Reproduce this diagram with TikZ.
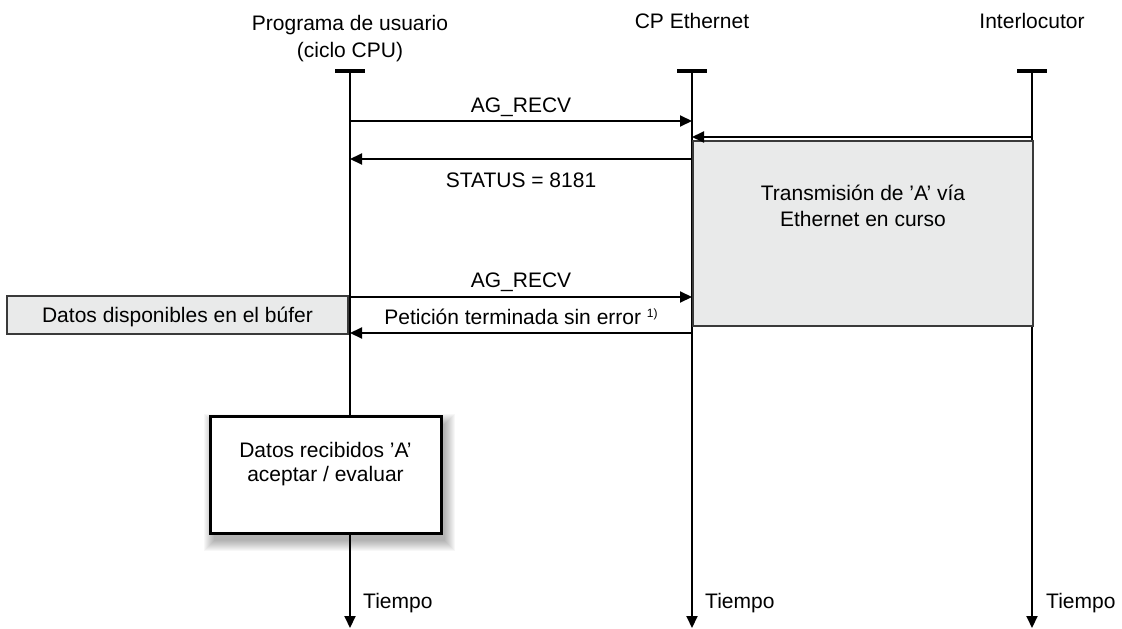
\documentclass[tikz,border=0pt]{standalone}
\usepackage{fontspec}
\setmainfont{Liberation Sans}
\usetikzlibrary{arrows.meta,calc}
\definecolor{boxgray}{HTML}{E9EAEA}
\definecolor{edgegray}{HTML}{3A3A3A}
\begin{document}
\begin{tikzpicture}[x=1pt,y=-1pt,
  txt/.style={font=\fontsize{21}{25}\selectfont, inner sep=0pt, anchor=base},
  life/.style={line width=2pt,-{Triangle[length=12pt,width=11pt]}},
  topbar/.style={line width=4.5pt},
  msg/.style={line width=2pt,-{Triangle[length=12pt,width=11pt]}},
  graybox/.style={draw=edgegray, fill=boxgray, line width=2pt, inner sep=0pt},
  whitebox/.style={draw=black, fill=white, line width=3pt, inner sep=0pt},
]
\useasboundingbox (0,0) rectangle (1122,629);

% headers
\node[txt, align=center] (hL) at (350,57) {Programa de usuario\\[2pt](ciclo CPU)};
\node[txt] (hM) at (692,28) {CP Ethernet};
\node[txt] (hR) at (1032,28) {Interlocutor};

% lifeline ends
\coordinate (Ltop) at (350,71);
\coordinate (Mtop) at (692,71);
\coordinate (Rtop) at (1032,71);
\coordinate (Lbot) at (350,628);
\coordinate (Mbot) at (692,628);
\coordinate (Rbot) at (1032,628);

\draw[topbar] ($(Ltop)+(-15,0)$) -- ($(Ltop)+(15,0)$);
\draw[topbar] ($(Mtop)+(-15,0)$) -- ($(Mtop)+(15,0)$);
\draw[topbar] ($(Rtop)+(-15,0)$) -- ($(Rtop)+(15,0)$);

\draw[life] (Ltop) -- (Lbot);
\draw[life] (Mtop) -- (Mbot);
\draw[life] (Rtop) -- (Rbot);

% gray transmission box
\node[graybox, minimum width=340pt, minimum height=185pt] (trans) at (863,233.5) {};
\node[txt, align=center] (transtxt) at (863,226.3) {Transmisión de ’A’ vía\\[0.6pt]Ethernet en curso};

% messages
\coordinate (m1L) at (350,121);
\coordinate (m1M) at (692,121);
\coordinate (m2R) at (1032,137);
\coordinate (m2M) at (692,137);
\coordinate (m3M) at (692,159);
\coordinate (m3L) at (350,159);
\coordinate (m4L) at (350,297);
\coordinate (m4M) at (692,297);
\coordinate (m5M) at (692,333);
\coordinate (m5L) at (350,333);

\draw[msg] (m1L) -- (m1M);
\draw[msg] (m2R) -- (m2M);
\draw[msg] (m3M) -- (m3L);
\draw[msg] (m4L) -- (m4M);
\draw[msg] (m5M) -- (m5L);

\node[txt] (l1) at (521,112.5) {AG\_RECV};
\node[txt] (l3) at (521,187) {STATUS = 8181};
\node[txt] (l4) at (521,287.5) {AG\_RECV};
\node[txt] (l5) at (521,324.5) {Petición terminada sin error \raisebox{7pt}{\fontsize{12}{12}\selectfont 1)}};

% buffer box
\node[graybox, minimum width=341pt, minimum height=38pt, text height=15pt, text depth=0pt,
      font=\fontsize{21}{25}\selectfont] (buf) at (177.5,315) {Datos disponibles en el búfer};

% received data box with soft shadow
\foreach \d in {0,1,...,10}{
  \fill[black, opacity=0.03] (214-\d,424-\d) rectangle (445+\d,541+\d);
}
\node[whitebox, minimum width=231pt, minimum height=117pt] (recv) at (325.5,474.5) {};
\node[txt, align=center] (recvtxt) at (325.5,481) {Datos recibidos ’A’\\[-1pt]aceptar / evaluar};

% time labels
\node[txt, anchor=base west] (tL) at (363,608) {Tiempo};
\node[txt, anchor=base west] (tM) at (705,608) {Tiempo};
\node[txt, anchor=base west] (tR) at (1046,608) {Tiempo};
\end{tikzpicture}
\end{document}
